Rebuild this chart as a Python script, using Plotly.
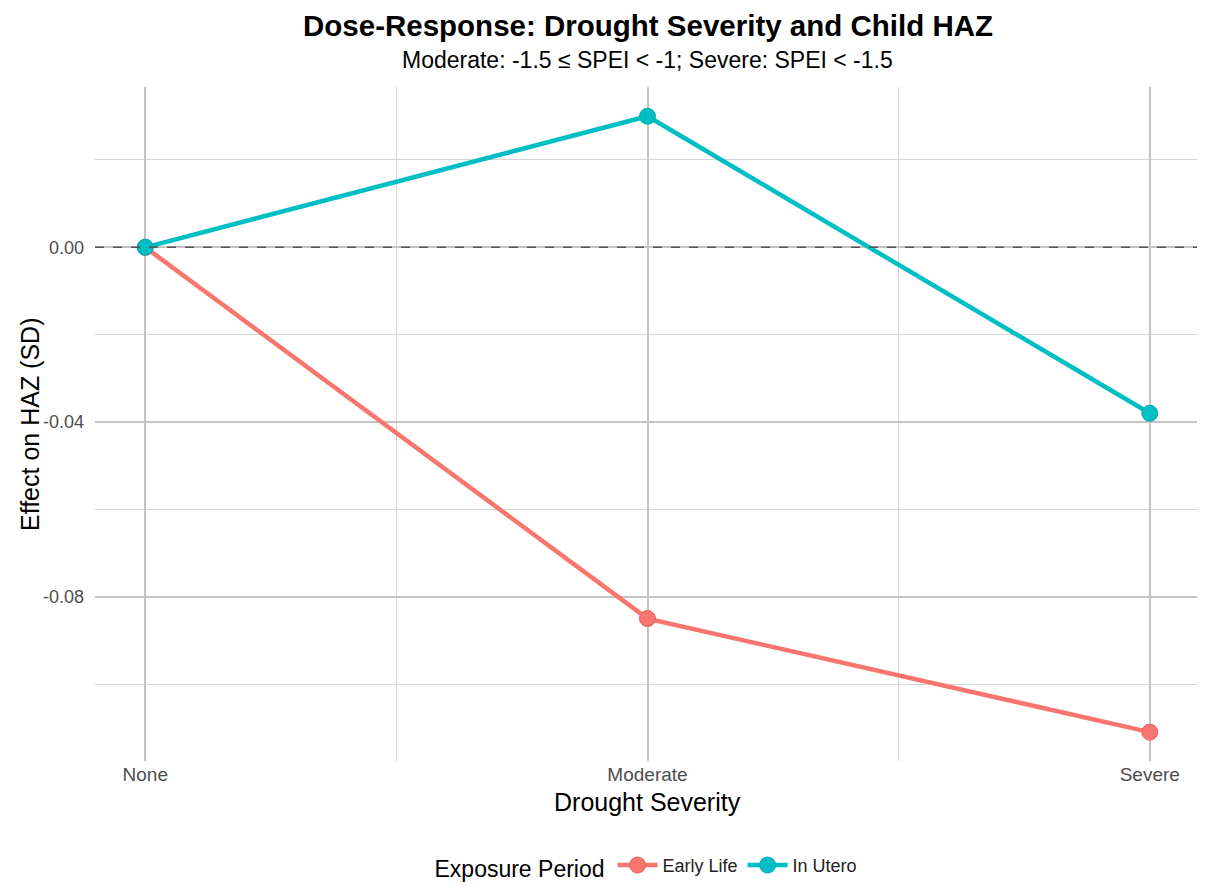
import plotly.graph_objects as go

severity = ["None", "Moderate", "Severe"]
x_pos = [0, 1, 2]
early_life = [0.0, -0.085, -0.111]
in_utero = [0.0, 0.030, -0.038]
y_ticks = [0.00, -0.04, -0.08]
y_ticklabels = ["0.00", "-0.04", "-0.08"]
y_minor = [0.02, -0.02, -0.06, -0.10]
x_minor = [0.5, 1.5]

FONT = "Liberation Sans, Arial, sans-serif"

fig = go.Figure()
fig.add_trace(go.Scatter(
    x=x_pos, y=early_life, mode="lines+markers", name="Early Life",
    line=dict(color="#F8766D", width=4.5),
    marker=dict(size=16, color="#F8766D", line=dict(color="#e0606a", width=1)),
))
fig.add_trace(go.Scatter(
    x=x_pos, y=in_utero, mode="lines+markers", name="In Utero",
    line=dict(color="#00BFC4", width=4.5),
    marker=dict(size=16, color="#00BFC4", line=dict(color="#00a8ad", width=1)),
))

fig.add_shape(type="line", xref="paper", x0=0, x1=1, yref="y", y0=0, y1=0,
              line=dict(color="#555555", width=1.5, dash="dash"), layer="above")

fig.update_layout(
    width=1197, height=879,
    paper_bgcolor="white", plot_bgcolor="white",
    margin=dict(l=87, r=5, t=79, b=126, autoexpand=False),
    font=dict(family=FONT, color="#000000"),
    showlegend=True,
    legend=dict(orientation="h", x=0.5, xanchor="center", y=-0.157, yanchor="middle",
                title=dict(text="Exposure Period", font=dict(size=23, color="#000")),
                font=dict(size=18, color="#222"), itemwidth=40, valign="middle"),
    annotations=[
        dict(text="<b>Dose-Response: Drought Severity and Child HAZ</b>", xref="paper", yref="paper",
             x=0.5, y=1, yshift=62, xanchor="center", yanchor="middle", showarrow=False,
             font=dict(size=29.5, color="#000")),
        dict(text="Moderate: -1.5 ≤ SPEI < -1; Severe: SPEI < -1.5", xref="paper", yref="paper",
             x=0.5, y=1, yshift=27, xanchor="center", yanchor="middle", showarrow=False,
             font=dict(size=23, color="#000")),
        dict(text="Drought Severity", xref="paper", yref="paper",
             x=0.5, y=0, yshift=-41, xanchor="center", yanchor="middle", showarrow=False,
             font=dict(size=25, color="#000")),
        dict(text="Effect on HAZ (SD)", xref="paper", yref="paper", textangle=-90,
             x=0, xshift=-65, y=0.5, xanchor="center", yanchor="middle", showarrow=False,
             font=dict(size=25, color="#000")),
    ],
)
fig.update_xaxes(
    range=[-0.1, 2.1], tickvals=x_pos, ticktext=severity, automargin=False,
    showgrid=True, gridcolor="#c4c4c4", gridwidth=1.5, zeroline=False, showline=False,
    tickfont=dict(size=19, color="#4d4d4d"), ticks="",
    minor=dict(tickvals=x_minor, showgrid=True, gridcolor="#d6d6d6", gridwidth=1.2),
)
fig.update_yaxes(
    range=[-0.1176, 0.0367], tickvals=y_ticks, ticktext=y_ticklabels, automargin=False,
    showgrid=True, gridcolor="#c4c4c4", gridwidth=1.5, zeroline=False, showline=False,
    tickfont=dict(size=18, color="#4d4d4d"), ticks="", ticklabelstandoff=10,
    minor=dict(tickvals=y_minor, showgrid=True, gridcolor="#d6d6d6", gridwidth=1.2),
)

fig.write_html("out.html")
